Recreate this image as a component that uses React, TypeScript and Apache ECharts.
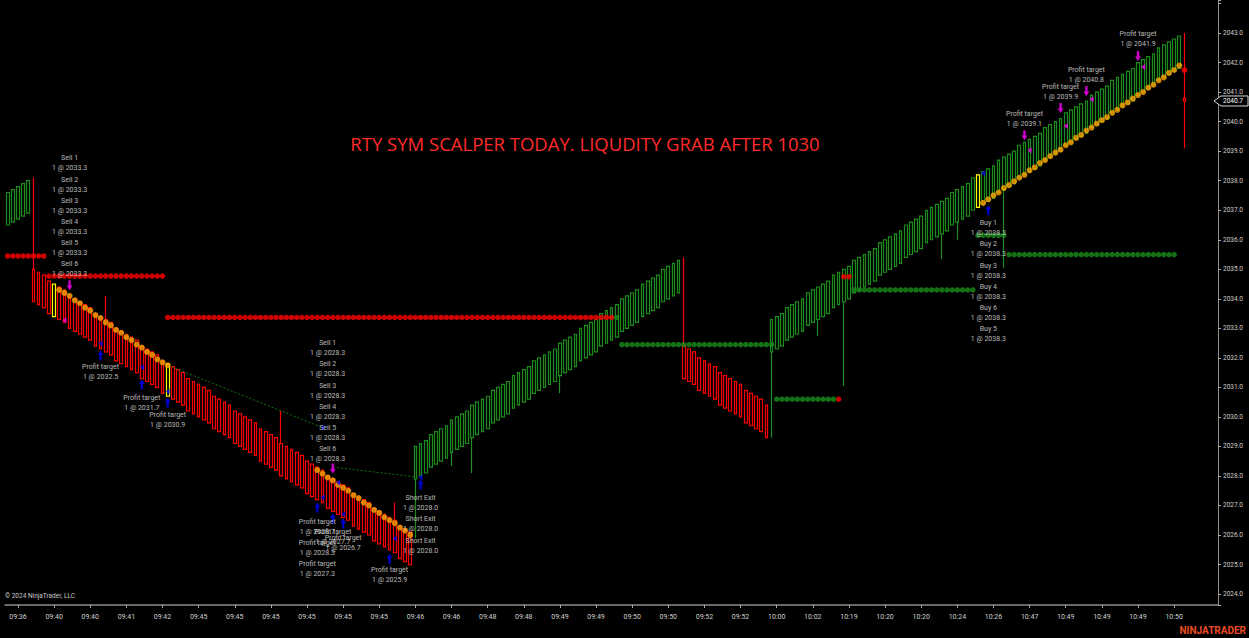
import React, { useEffect, useRef } from "react";
import * as echarts from "echarts";

const FONT = "Roboto, 'Noto Sans', sans-serif";
const TOTAL_SLOTS = 235;

const tickLabels = ["09:36","09:40","09:40","09:41","09:42","09:45","09:45","09:45","09:45","09:45","09:45","09:46","09:46","09:48","09:48","09:49","09:49","09:50","09:50","09:52","09:52","10:00","10:02","10:19","10:20","10:20","10:24","10:26","10:47","10:49","10:49","10:49","10:50"];

// [open, close] per bar
const bars: [number, number][] = [
  [2036.5,2037.6],[2036.6,2037.7],[2036.7,2037.8],[2036.8,2037.9],[2036.9,2038.0],
  [2035.0,2033.9],[2034.9,2033.8],[2034.8,2033.7],[2034.6,2033.5],[2034.5,2033.4],
  [2034.4,2033.3],[2034.3,2033.2],[2034.1,2033.0],[2034.0,2032.9],[2033.9,2032.8],
  [2033.8,2032.7],[2033.7,2032.6],[2033.5,2032.4],[2033.4,2032.3],[2033.3,2032.2],
  [2033.2,2032.1],[2033.0,2031.9],[2032.9,2031.8],[2032.8,2031.7],[2032.7,2031.6],
  [2032.6,2031.5],[2032.4,2031.3],[2032.3,2031.2],[2032.2,2031.1],[2032.1,2031.0],
  [2031.9,2030.8],[2031.8,2030.7],[2031.7,2030.6],[2031.6,2030.5],[2031.5,2030.4],
  [2031.3,2030.2],[2031.2,2030.1],[2031.1,2030.0],[2031.0,2029.9],[2030.9,2029.8],
  [2030.7,2029.6],[2030.6,2029.5],[2030.5,2029.4],[2030.4,2029.3],[2030.2,2029.1],
  [2030.1,2029.0],[2030.0,2028.9],[2029.9,2028.8],[2029.8,2028.7],[2029.6,2028.5],
  [2029.5,2028.4],[2029.4,2028.3],[2029.3,2028.2],[2029.1,2028.0],[2029.0,2027.9],
  [2028.9,2027.8],[2028.8,2027.7],[2028.7,2027.6],[2028.5,2027.4],[2028.4,2027.3],
  [2028.3,2027.2],[2028.2,2027.1],[2028.0,2026.9],[2027.9,2026.8],[2027.8,2026.7],
  [2027.7,2026.6],[2027.6,2026.5],[2027.4,2026.3],[2027.3,2026.2],[2027.2,2026.1],
  [2027.1,2026.0],[2026.9,2025.8],[2026.8,2025.7],[2026.7,2025.6],[2026.6,2025.5],
  [2026.5,2025.4],[2026.3,2025.2],[2026.2,2025.1],[2026.1,2025.0],
  [2027.9,2029.0],[2028.0,2029.1],[2028.1,2029.2],[2028.3,2029.4],[2028.4,2029.5],
  [2028.5,2029.6],[2028.6,2029.7],[2028.8,2029.9],[2028.9,2030.0],[2029.0,2030.1],
  [2029.1,2030.2],[2029.3,2030.4],[2029.4,2030.5],[2029.5,2030.6],[2029.6,2030.7],
  [2029.8,2030.9],[2029.9,2031.0],[2030.0,2031.1],[2030.1,2031.2],[2030.3,2031.4],
  [2030.4,2031.5],[2030.5,2031.6],[2030.6,2031.7],[2030.8,2031.9],[2030.9,2032.0],
  [2031.0,2032.1],[2031.1,2032.2],[2031.2,2032.3],[2031.4,2032.5],[2031.5,2032.6],
  [2031.6,2032.7],[2031.7,2032.8],[2031.9,2033.0],[2032.0,2033.1],[2032.1,2033.2],
  [2032.2,2033.3],[2032.4,2033.5],[2032.5,2033.6],[2032.6,2033.7],[2032.7,2033.8],
  [2032.9,2034.0],[2033.0,2034.1],[2033.1,2034.2],[2033.2,2034.3],[2033.4,2034.5],
  [2033.5,2034.6],[2033.6,2034.7],[2033.7,2034.8],[2033.9,2035.0],[2034.0,2035.1],
  [2034.1,2035.2],[2034.2,2035.3],
  [2032.4,2031.3],[2032.3,2031.2],[2032.2,2031.1],[2032.0,2030.9],[2031.9,2030.8],
  [2031.8,2030.7],[2031.7,2030.6],[2031.5,2030.4],[2031.4,2030.3],[2031.3,2030.2],
  [2031.2,2030.1],[2031.1,2030.0],[2030.9,2029.8],[2030.8,2029.7],[2030.7,2029.6],
  [2030.6,2029.5],[2030.4,2029.3],
  [2032.2,2033.3],[2032.3,2033.4],[2032.4,2033.5],[2032.6,2033.7],[2032.7,2033.8],
  [2032.8,2033.9],[2032.9,2034.0],[2033.1,2034.2],[2033.2,2034.3],[2033.3,2034.4],
  [2033.4,2034.5],[2033.5,2034.6],[2033.7,2034.8],[2033.8,2034.9],[2033.9,2035.0],
  [2034.0,2035.1],[2034.2,2035.3],[2034.3,2035.4],[2034.4,2035.5],[2034.5,2035.6],
  [2034.6,2035.7],[2034.8,2035.9],[2034.9,2036.0],[2035.0,2036.1],[2035.1,2036.2],
  [2035.2,2036.3],[2035.4,2036.5],[2035.5,2036.6],[2035.6,2036.7],[2035.7,2036.8],
  [2035.9,2037.0],[2036.0,2037.1],[2036.1,2037.2],[2036.2,2037.3],[2036.3,2037.4],
  [2036.5,2037.6],[2036.6,2037.7],[2036.7,2037.8],[2036.8,2037.9],[2037.0,2038.1],
  [2037.1,2038.2],[2037.2,2038.3],[2037.3,2038.4],[2037.4,2038.5],[2037.6,2038.7],
  [2037.7,2038.8],[2037.8,2038.9],[2037.9,2039.0],[2038.1,2039.2],[2038.2,2039.3],
  [2038.3,2039.4],[2038.4,2039.5],[2038.5,2039.6],[2038.7,2039.8],[2038.8,2039.9],
  [2038.9,2040.0],[2039.0,2040.1],[2039.2,2040.3],[2039.3,2040.4],[2039.4,2040.5],
  [2039.5,2040.6],[2039.6,2040.7],[2039.8,2040.9],[2039.9,2041.0],[2040.0,2041.1],
  [2040.1,2041.2],[2040.3,2041.4],[2040.4,2041.5],[2040.5,2041.6],[2040.6,2041.7],
  [2040.7,2041.8],[2040.9,2042.0],[2041.0,2042.1],[2041.1,2042.2],[2041.2,2042.3],
  [2041.4,2042.5],[2041.5,2042.6],[2041.6,2042.7],[2041.7,2042.8],[2041.8,2042.9],
  [2040.8,2040.7]
];

// [bar, low, high] for bars with wicks
const wicks: [number, number, number][] = [
  [5,2033.9,2038.1],[19,2032.2,2034.1],[53,2028.0,2030.2],[75,2025.4,2027.1],
  [79,2025.9,2029.0],[86,2028.35,2029.9],[90,2028.1,2030.4],[107,2030.8,2032.5],
  [131,2031.3,2035.4],[148,2029.3,2033.3],[157,2032.75,2034.4],[162,2031.05,2035.0],
  [181,2035.35,2037.3],[184,2036.0,2037.7],[193,2035.05,2038.8],[228,2039.1,2043.0]
];
const yellowBars = [9, 31, 188];
const lastPrice = 2040.7;

// [fromBar, toBar, level, colour]
const stopSegments: [number, number, number, string][] = [
  [0,7,2035.45,"red"],[8,30,2034.77,"red"],[31,117,2033.37,"red"],[118,118,2033.37,"green"],
  [119,148,2032.45,"green"],[149,160,2030.6,"green"],[161,161,2030.6,"red"],
  [162,163,2034.75,"red"],[164,187,2034.3,"green"],[188,193,2036.15,"green"],[194,226,2035.5,"green"]
];

const orange1 = [2034.3,2034.2,2034.1,2033.95,2033.85,2033.7,2033.6,2033.45,2033.35,2033.2,2033.1,2032.95,2032.85,2032.7,2032.6,2032.45,2032.35,2032.2,2032.1,2031.95,2031.85,2031.75];
const orange2 = [2028.2,2028.08,2027.95,2027.85,2027.7,2027.6,2027.5,2027.35,2027.25,2027.1,2027.0,2026.85,2026.75,2026.6,2026.5,2026.4,2026.25,2026.15,2026.0];
const orange3 = [2037.25,2037.37,2037.5,2037.6,2037.75,2037.85,2037.98,2038.1,2038.2,2038.35,2038.45,2038.6,2038.7,2038.83,2038.95,2039.05,2039.2,2039.3,2039.45,2039.55,2039.7,2039.8,2039.93,2040.05,2040.15,2040.3,2040.4,2040.55,2040.65,2040.78,2040.9,2041.0,2041.15,2041.25,2041.4,2041.5,2041.65,2041.75,2041.9];
const orangeStarts = [10, 60, 189];
const lastDot: [number, number] = [228, 2041.75];

const sellArrows: [number, number][] = [[12,2034.46],[63,2028.25],[197,2039.54],[204,2040.46],[209,2041.03],[219,2042.22]];
const buyArrows: [number, number][] = [[18,2032.08],[26,2031.1],[31,2030.49],[60,2026.93],[63,2026.56],[65,2026.39],[74,2025.2],[80,2027.71],[190,2037.0]];
const blueTriangles: [number, number][] = [[18,2032.49],[26,2031.68],[31,2030.86],[61,2029.64],[61,2027.27],[64,2027.78],[65,2026.7],[75,2025.88],[80,2027.95],[189,2038.25]];
const magentaTriangles: [number, number][] = [[11,2033.27],[198,2039.03],[205,2039.85],[210,2040.76],[220,2041.85]];

const tradeLines: [number, number, number, number][] = [
  [31,2031.75,61,2029.64],[63,2028.3,80,2027.95]
];

const notes: [number, number, string][] = [
  [12,2038.59,"Sell 1\n1 @ 2033.3"],[12,2037.86,"Sell 2\n1 @ 2033.3"],[12,2037.14,"Sell 3\n1 @ 2033.3"],
  [12,2036.42,"Sell 4\n1 @ 2033.3"],[12,2035.71,"Sell 5\n1 @ 2033.3"],[12,2035.0,"Sell 6\n1 @ 2033.3"],
  [18,2031.51,"Profit target\n1 @ 2032.5"],[26,2030.46,"Profit target\n1 @ 2031.7"],[31,2029.88,"Profit target\n1 @ 2030.9"],
  [62,2032.32,"Sell 1\n1 @ 2028.3"],[62,2031.61,"Sell 2\n1 @ 2028.3"],[62,2030.88,"Sell 3\n1 @ 2028.3"],
  [62,2030.17,"Sell 4\n1 @ 2028.3"],[62,2029.46,"Sell 5\n1 @ 2028.3"],[62,2028.75,"Sell 6\n1 @ 2028.3"],
  [60,2026.27,"Profit target\n1 @ 2028.7"],[60,2025.56,"Profit target\n1 @ 2028.3"],[60,2024.85,"Profit target\n1 @ 2027.3"],
  [63,2025.93,"Profit target\n1 @ 2027.7"],[65,2025.73,"Profit target\n1 @ 2026.7"],[74,2024.63,"Profit target\n1 @ 2025.9"],
  [80,2027.1,"Short Exit\n1 @ 2028.0"],[80,2026.39,"Short Exit\n1 @ 2028.0"],[80,2025.64,"Short Exit\n1 @ 2028.0"],
  [197,2040.08,"Profit target\n1 @ 2039.1"],[204,2041.0,"Profit target\n1 @ 2039.9"],
  [209,2041.58,"Profit target\n1 @ 2040.8"],[219,2042.8,"Profit target\n1 @ 2041.9"],
  [190,2036.41,"Buy 1\n1 @ 2038.3"],[190,2035.68,"Buy 2\n1 @ 2038.3"],[190,2034.95,"Buy 3\n1 @ 2038.3"],
  [190,2034.24,"Buy 4\n1 @ 2038.3"],[190,2033.53,"Buy 6\n1 @ 2038.3"],[190,2032.81,"Buy 5\n1 @ 2038.3"]
];

const titleText = "RTY SYM SCALPER TODAY. LIQUDITY GRAB AFTER 1030";

const GREEN = "#1c8c1c";
const RED = "#ff0000";
const ORANGE = "#ffa500";

export default function App() {
  const ref = useRef<HTMLDivElement>(null);
  useEffect(() => {
    if (!ref.current) return;
    document.body.style.margin = "0";
    document.body.style.background = "#000";
    const chart = echarts.init(ref.current, undefined, { renderer: "svg" });

    const wickMap: Record<number, [number, number]> = {};
    wicks.forEach(([i, l, h]) => (wickMap[i] = [l, h]));
    const candleData = bars.map(([o, c], i) => {
      const w = wickMap[i];
      const lo = Math.min(o, c, w ? w[0] : Infinity);
      const hi = Math.max(o, c, w ? w[1] : -Infinity);
      const item: any = { value: [o, c, lo, hi] };
      if (yellowBars.includes(i)) item.itemStyle = { borderColor: "#ffff00", borderColor0: "#ffff00" };
      return item;
    });

    const redStops: number[][] = [];
    const greenStops: number[][] = [];
    stopSegments.forEach(([a, b, v, col]) => {
      for (let i = a; i <= b; i++) (col === "red" ? redStops : greenStops).push([i, v]);
    });
    const orangeData: number[][] = [];
    [orange1, orange2, orange3].forEach((arr, k) => arr.forEach((v, j) => orangeData.push([orangeStarts[k] + j, v])));

    const slots = Array.from({ length: TOTAL_SLOTS }, (_, i) => String(i));
    const isTick = (i: number) => i >= 2 && (i - 2) % 7 === 0 && (i - 2) / 7 < tickLabels.length;

    const downArrow = "path://M3,0 L7,0 L7,7 L10,7 L5,13 L0,7 L3,7 Z";
    const upArrow = "path://M5,0 L10,6 L7,6 L7,13 L3,13 L3,6 L0,6 Z";
    const leftTri = "path://M0,5 L8,0 L8,10 Z";

    const series: any[] = [
      {
        type: "candlestick",
        data: candleData,
        barWidth: 3.2,
        silent: true,
        z: 2,
        itemStyle: { color: "#000", color0: "#000", borderColor: GREEN, borderColor0: RED, borderWidth: 1.2 },
      },
      ...tradeLines.map(([a, p, b, q]) => ({
        type: "line",
        data: [[a, p], [b, q]],
        symbol: "none",
        silent: true,
        z: 3,
        lineStyle: { color: "#0c7a0c", width: 1, type: [2, 2] },
      })),
      { type: "scatter", data: redStops, symbolSize: 5.5, itemStyle: { color: RED }, silent: true, z: 4 },
      { type: "scatter", data: greenStops, symbolSize: 5.5, itemStyle: { color: GREEN }, silent: true, z: 4 },
      { type: "scatter", data: orangeData, symbolSize: 6, itemStyle: { color: ORANGE }, silent: true, z: 5 },
      { type: "scatter", data: [lastDot], symbolSize: 6, itemStyle: { color: RED }, silent: true, z: 5 },
      { type: "scatter", data: sellArrows, symbol: downArrow, symbolSize: [6, 10], itemStyle: { color: "#ff00ff" }, silent: true, z: 6 },
      { type: "scatter", data: buyArrows, symbol: upArrow, symbolSize: [6, 10], itemStyle: { color: "#0000ff" }, silent: true, z: 6 },
      { type: "scatter", data: blueTriangles, symbol: leftTri, symbolSize: [4, 6], itemStyle: { color: "#0000ff" }, silent: true, z: 6 },
      { type: "scatter", data: magentaTriangles, symbol: leftTri, symbolSize: [4, 6], itemStyle: { color: "#ff00ff" }, silent: true, z: 6 },
      {
        type: "scatter",
        data: notes.map(([i, p, t]) => ({ value: [i, p], text: t })),
        symbolSize: 1,
        itemStyle: { color: "rgba(0,0,0,0)" },
        silent: true,
        z: 7,
        label: {
          show: true,
          position: "inside",
          formatter: (prm: any) => prm.data.text,
          color: "#e2e2e2",
          fontSize: 7,
          lineHeight: 10,
          fontFamily: FONT,
          align: "center",
        },
      },
    ];

    chart.setOption({
      animation: false,
      backgroundColor: "#000",
      grid: { left: 5.07, right: 31, top: 0, bottom: 33, containLabel: false },
      xAxis: {
        type: "category",
        data: slots,
        boundaryGap: true,
        axisLine: { show: true, lineStyle: { color: "#8c8c8c", width: 1.5 } },
        axisTick: { show: true, alignWithLabel: true, interval: (i: number) => isTick(i), length: 3, lineStyle: { color: "#aaaaaa" } },
        axisLabel: {
          interval: (i: number) => isTick(i),
          formatter: (_v: string, i: number) => (isTick(i) ? tickLabels[(i - 2) / 7] : ""),
          color: "#cfcfcf",
          fontSize: 7,
          margin: 8,
          fontFamily: FONT,
        },
        splitLine: { show: false },
      },
      yAxis: {
        type: "value",
        position: "right",
        min: 2023.63,
        max: 2044.12,
        minInterval: 1,
        maxInterval: 1,
        axisLine: { show: true, lineStyle: { color: "#8c8c8c", width: 1 } },
        axisTick: { show: true, length: 3, lineStyle: { color: "#aaaaaa" } },
        axisLabel: {
          formatter: (v: number) => (v > 2043.5 || v < 2023.9 ? "" : v.toFixed(1)),
          color: "#cfcfcf",
          fontSize: 6.5,
          margin: 5,
          fontFamily: FONT,
        },
        splitLine: { show: false },
      },
      series,
    });

    const py = chart.convertToPixel({ yAxisIndex: 0 }, lastPrice) as number;
    const px = chart.convertToPixel({ xAxisIndex: 0 }, TOTAL_SLOTS - 1) as number;
    const axisX = px + 2.6;
    chart.setOption({
      graphic: [
        {
          type: "polygon",
          silent: true,
          z: 100,
          shape: { points: [[axisX - 4, py], [axisX + 3, py - 5], [axisX + 30, py - 5], [axisX + 30, py + 5], [axisX + 3, py + 5]] },
          style: { fill: "#000", stroke: "#d8d8d8", lineWidth: 1 },
        },
        {
          type: "text",
          silent: true,
          z: 101,
          x: axisX + 5,
          y: py,
          style: { text: lastPrice.toFixed(1), fill: "#ffffff", fontSize: 6.5, fontFamily: FONT, verticalAlign: "middle" },
        },
        {
          type: "text",
          silent: true,
          z: 100,
          x: 585,
          y: 143,
          style: { text: titleText, fill: "#ff2a2a", fontSize: 18.5, fontFamily: "'Open Sans', sans-serif", align: "center", verticalAlign: "middle" },
        },
        {
          type: "text",
          silent: true,
          z: 100,
          left: 5,
          top: 592,
          style: { text: "© 2024 NinjaTrader, LLC", fill: "#c8c8c8", fontSize: 6.5, fontFamily: FONT },
        },
        {
          type: "text",
          silent: true,
          z: 100,
          right: 3,
          top: 625,
          style: { text: "NINJATRADER", fill: "#ee4b22", fontSize: 10, fontWeight: "bold", fontFamily: FONT },
        },
      ],
    });

    return () => chart.dispose();
  }, []);
  return <div ref={ref} style={{ position: "fixed", left: 0, top: 0, width: 1249, height: 638, background: "#000" }} />;
}
